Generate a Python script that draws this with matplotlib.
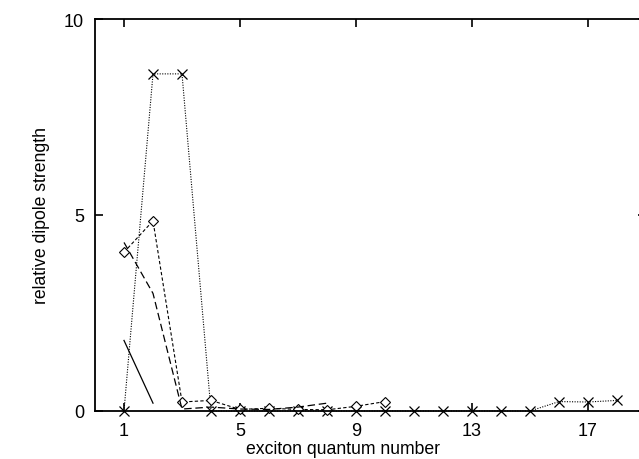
import numpy as np
import matplotlib
matplotlib.use('Agg')
import matplotlib.pyplot as plt

plt.rcParams['font.family'] = ['Liberation Sans', 'DejaVu Sans']

# exciton quantum numbers
n_cross = np.arange(1, 19)
s_cross = [0.0, 8.6, 8.6, 0.0, 0.0, 0.0, 0.0, 0.0, 0.0, 0.0,
           0.0, 0.0, 0.0, 0.0, 0.0, 0.24, 0.23, 0.27]

n_diam = np.arange(1, 11)
s_diam = [4.05, 4.85, 0.23, 0.27, 0.04, 0.07, 0.04, 0.03, 0.12, 0.24]

n_long = np.arange(1, 9)
s_long = [4.3, 3.0, 0.05, 0.1, 0.05, 0.04, 0.1, 0.2]

n_solid = [1, 2]
s_solid = [1.8, 0.2]

xticks = [1, 5, 9, 13, 17]
yticks = [0, 5, 10]

fig = plt.figure(figsize=(6.39, 4.6), dpi=100)
ax = fig.add_axes([95/639, 48/460, 551/639, 392/460])

ax.plot(n_cross, s_cross, color='black', lw=0.8, ls=(0, (1, 1.3)),
        marker='x', ms=7, mew=0.9, clip_on=False)
ax.plot(n_diam, s_diam, color='black', lw=0.8, ls=(0, (3, 2)),
        marker='D', ms=5, mfc='white', mew=0.8, clip_on=False)
ax.plot(n_long, s_long, color='black', lw=0.9, ls=(0, (6, 3)))
ax.plot(n_solid, s_solid, color='black', lw=0.9)

ax.set_xlim(0, 19)
ax.set_ylim(0, 10)
ax.set_xticks(xticks)
ax.set_yticks(yticks)
ax.tick_params(direction='in', length=6, width=1.2, top=True, right=True,
               labelsize=13, pad=8)
for sp in ax.spines.values():
    sp.set_linewidth(1.3)

ax.set_xlabel('exciton quantum number', fontsize=12.7)
ax.xaxis.set_label_coords(0.45, -0.075)
ax.set_ylabel('relative dipole strength', fontsize=12.7, labelpad=10)

fig.savefig('out.png', dpi=100)
